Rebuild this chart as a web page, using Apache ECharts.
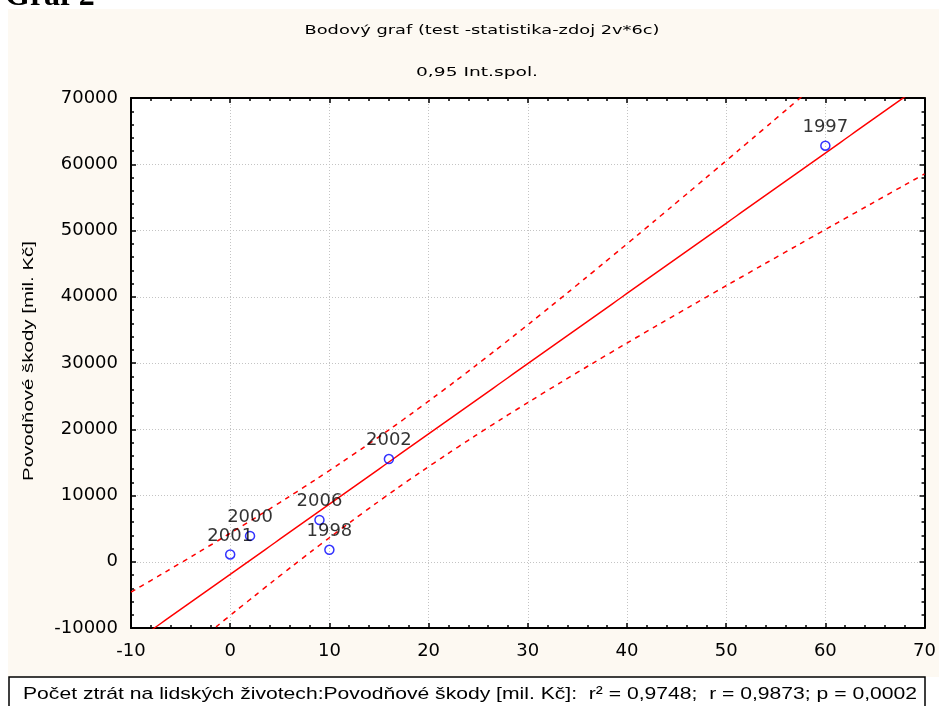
<!DOCTYPE html>
<html><head><meta charset="utf-8">
<script src="https://cdn.jsdelivr.net/npm/echarts@6/dist/echarts.min.js"></script>
<style>html,body{margin:0;padding:0;background:#fff}#c{width:939px;height:706px}</style>
</head><body><div id="c"></div>
<script>
// ---- data ----
const years   = ['2001', '2000', '2006', '1998', '2002', '1997'];
const deaths  = [0, 2, 9, 10, 16, 60];                       // Počet ztrát na lidských životech
const damages = [1100, 3900, 6300, 1800, 15500, 62800];      // Povodňové škody [mil. Kč]
const xTickRange = [-10, 70, 10];
const yTickRange = [-10000, 70000, 10000];
const headText  = 'Graf 2';
const titleText = 'Bodový graf (test -statistika-zdoj 2v*6c)';
const subText   = '0,95 Int.spol.';
const yName     = 'Povodňové škody [mil. Kč]';
const statsText = 'Počet ztrát na lidských životech:Povodňové škody [mil. Kč]:  r² = 0,9748;  r = 0,9873; p = 0,0002';
const tCrit = 2.776; // t(0.975, df = 4) for the 0,95 confidence band

// ---- linear fit + confidence band derived from the data ----
const n = deaths.length;
const mx = deaths.reduce((a, b) => a + b, 0) / n;
const my = damages.reduce((a, b) => a + b, 0) / n;
let sxx = 0, sxy = 0, syy = 0;
for (let i = 0; i < n; i++) {
  sxx += (deaths[i] - mx) ** 2;
  sxy += (deaths[i] - mx) * (damages[i] - my);
  syy += (damages[i] - my) ** 2;
}
const slope = sxy / sxx, icpt = my - slope * mx;
const sRes = Math.sqrt((syy - slope * sxy) / (n - 2));
const fitLine = [], upper = [], lower = [];
for (let x = xTickRange[0]; x <= xTickRange[1] + 1e-9; x += 0.5) {
  const yh = icpt + slope * x;
  const h = tCrit * sRes * Math.sqrt(1 / n + (x - mx) ** 2 / sxx);
  fitLine.push([x, yh]); upper.push([x, yh + h]); lower.push([x, yh - h]);
}
const points = deaths.map((d, i) => [d, damages[i]]);

// ---- text fitting helper ----
const mctx = document.createElement('canvas').getContext('2d');
function fit(text, font, target) { mctx.font = font; return target / mctx.measureText(text).width; }

const fTick = 'DejaVu Sans';
const titleFont = '13px "DejaVu Sans"';
const statsFont = '17px "Liberation Sans"';
const nameFont = '15px "Liberation Sans"';

const chart = echarts.init(document.getElementById('c'));
const axisCommon = {
  type: 'value',
  axisLine: { show: true, onZero: false, lineStyle: { color: '#000', width: 2 } },
  axisTick: { show: true, inside: true, length: 5, lineStyle: { color: '#000', width: 1.5 } },
  minorTick: { show: true, splitNumber: 5, length: 3, lineStyle: { color: '#000', width: 1.5 } },
};
const plain = v => String(v);
chart.setOption({
  animation: false,
  backgroundColor: 'transparent',
  grid: { left: 131, right: 11, top: 98, bottom: 78, show: true, backgroundColor: '#fff', borderWidth: 0 },
  xAxis: [
    Object.assign({}, axisCommon, {
      min: xTickRange[0], max: xTickRange[1], interval: xTickRange[2], position: 'bottom',
      axisLabel: { margin: 14, fontFamily: fTick, fontSize: 18, color: '#000', formatter: plain },
      splitLine: { show: true, lineStyle: { color: '#c4c4c4', width: 1, type: [1, 2] } }
    }),
    Object.assign({}, axisCommon, {
      min: xTickRange[0], max: xTickRange[1], interval: xTickRange[2], position: 'top',
      axisLabel: { show: false }, splitLine: { show: false }
    })
  ],
  yAxis: [
    Object.assign({}, axisCommon, {
      min: yTickRange[0], max: yTickRange[1], interval: yTickRange[2], position: 'left',
      axisLabel: { margin: 13, fontFamily: fTick, fontSize: 18, color: '#000', formatter: plain },
      splitLine: { show: true, lineStyle: { color: '#c4c4c4', width: 1, type: [1, 2] } }
    }),
    Object.assign({}, axisCommon, {
      min: yTickRange[0], max: yTickRange[1], interval: yTickRange[2], position: 'right',
      axisLabel: { show: false }, splitLine: { show: false }
    })
  ],
  series: [
    { type: 'line', data: fitLine, showSymbol: false, symbol: 'none', clip: true, z: 3,
      lineStyle: { color: '#ff0000', width: 1.5 } },
    { type: 'line', data: upper, showSymbol: false, symbol: 'none', clip: true, z: 3, smooth: true,
      lineStyle: { color: '#ff0000', width: 1.5, type: [5, 5] } },
    { type: 'line', data: lower, showSymbol: false, symbol: 'none', clip: true, z: 3, smooth: true,
      lineStyle: { color: '#ff0000', width: 1.5, type: [5, 5] } },
    { type: 'scatter', data: points, symbol: 'circle', symbolSize: 9, z: 5,
      itemStyle: { color: 'rgba(0,0,0,0)', borderColor: '#0000ff', borderWidth: 1.5 },
      label: { show: true, position: 'top', distance: 4, color: '#000', fontFamily: fTick, fontSize: 18,
        formatter: p => years[p.dataIndex] } }
  ],
  graphic: [
    { type: 'rect', z: -100, silent: true, shape: { x: 8, y: 9, width: 931, height: 668 }, style: { fill: '#fdf9f2' } },
    { type: 'text', x: 5, y: -3, style: { text: headText, font: 'bold 32px "Liberation Serif"', fill: '#000', align: 'left', verticalAlign: 'middle' } },
    { type: 'text', x: 482, y: 31, scaleX: fit(titleText, titleFont, 355), style: { text: titleText, font: titleFont, fill: '#000', align: 'center', verticalAlign: 'middle' } },
    { type: 'text', x: 477, y: 73, scaleX: fit(subText, titleFont, 122), style: { text: subText, font: titleFont, fill: '#000', align: 'center', verticalAlign: 'middle' } },
    { type: 'text', x: 29, y: 361, rotation: Math.PI / 2, scaleX: fit(yName, nameFont, 240), style: { text: yName, font: nameFont, fill: '#000', align: 'center', verticalAlign: 'middle' } },
    { type: 'rect', z: 10, shape: { x: 9, y: 677, width: 916, height: 40 }, style: { fill: '#fff', stroke: '#000', lineWidth: 1.5 } },
    { type: 'text', z: 11, x: 23, y: 694, scaleX: fit(statsText, statsFont, 894), style: { text: statsText, font: statsFont, fill: '#000', align: 'left', verticalAlign: 'middle' } }
  ]
});
</script></body></html>
